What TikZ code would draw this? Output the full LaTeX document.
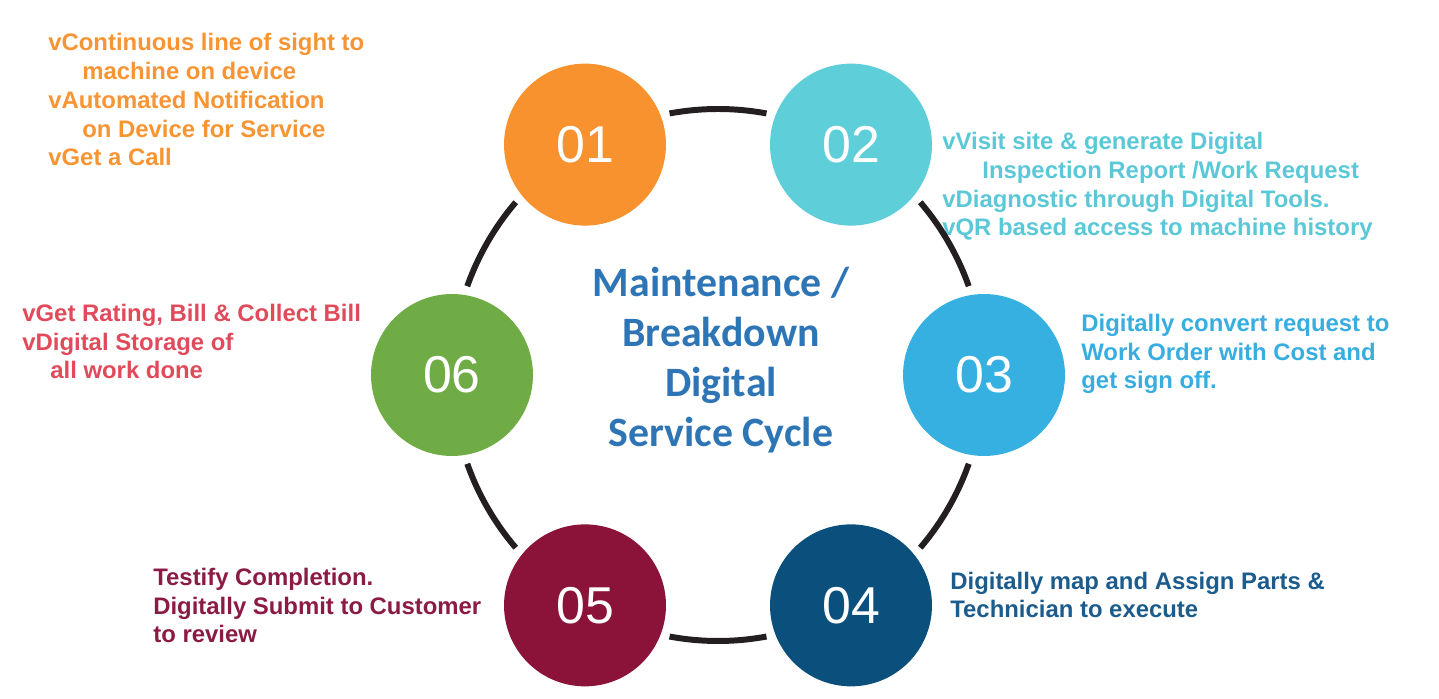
\documentclass[tikz,border=0pt]{standalone}
\usepackage{fontspec}
\setmainfont{Liberation Sans}
\newfontfamily\titlefont{Carlito}
\definecolor{stepone}{HTML}{F7922F}
\definecolor{steptwo}{HTML}{5ECED9}
\definecolor{stepthree}{HTML}{35B0E1}
\definecolor{stepfour}{HTML}{0B4F7C}
\definecolor{stepfive}{HTML}{8B1239}
\definecolor{stepsix}{HTML}{70AC46}
\definecolor{txtone}{HTML}{F79433}
\definecolor{txttwo}{HTML}{5BC8D8}
\definecolor{txtthree}{HTML}{37ADE0}
\definecolor{txtfour}{HTML}{1B5C8D}
\definecolor{txtfive}{HTML}{8B1A44}
\definecolor{txtsix}{HTML}{E04A5B}
\definecolor{titleblue}{HTML}{2E75B6}
\definecolor{ringblack}{HTML}{231F20}

\begin{document}
\begin{tikzpicture}[x=0.02cm,y=0.02cm,
    stepcircle/.style={circle,minimum size=3.24cm,inner sep=0pt,text=white,font=\fontsize{29.5}{30}\selectfont},
    sidetext/.style={anchor=base west,align=left,inner sep=0pt,font=\bfseries\fontsize{13.6}{16.4}\selectfont},
    ringarc/.style={line width=3.4pt,color=ringblack}]
    \useasboundingbox(0,0)rectangle(1439,699);
    \coordinate(ring)at(718,324);
    % the six steps round the ring
    \foreach \n/\a/\c in {01/120/stepone,02/60/steptwo,03/0/stepthree,04/-60/stepfour,05/-120/stepfive,06/180/stepsix}
        \path(ring)++(\a:266)node[stepcircle,fill=\c](c\n){\n};
    \node[font=\titlefont\bfseries\fontsize{23.8}{28.4}\selectfont,text=titleblue,align=center,inner sep=0pt](title)at(721,339){Maintenance /\\Breakdown\\Digital\\Service Cycle};
    % texts of the steps (base = last line)
    \node[sidetext,text=txtone](t01)at(48,533){vContinuous line of sight to\\\hspace*{0.68cm}machine on device\\vAutomated Notification\\\hspace*{0.68cm}on Device for Service\\vGet a Call};
    \node[sidetext,text=txttwo](t02)at(942,463){vVisit site \& generate Digital\\\hspace*{0.8cm}Inspection Report /Work Request\\vDiagnostic through Digital Tools.\\vQR based access to machine history};
    \node[sidetext,text=txtthree](t03)at(1081,310){Digitally convert request to\\Work Order with Cost and\\get sign off.};
    \node[sidetext,text=txtfour](t04)at(950,81){Digitally map and Assign Parts \&\\Technician to execute};
    \node[sidetext,text=txtfive](t05)at(153,56){Testify Completion.\\Digitally Submit to Customer\\to review};
    \node[sidetext,text=txtsix](t06)at(22,320){vGet Rating, Bill \& Collect Bill\\vDigital Storage of\\\hspace*{0.56cm}all work done};
    % arcs between the steps
    \foreach \m[evaluate=\m as \s using \m+10.5,evaluate=\m as \e using \m-10.5] in {90,30,-30,-90,-150,150}
        \draw[ringarc]([shift={(\s:266)}]ring)arc[start angle=\s,end angle=\e,radius=266];
\end{tikzpicture}
\end{document}
